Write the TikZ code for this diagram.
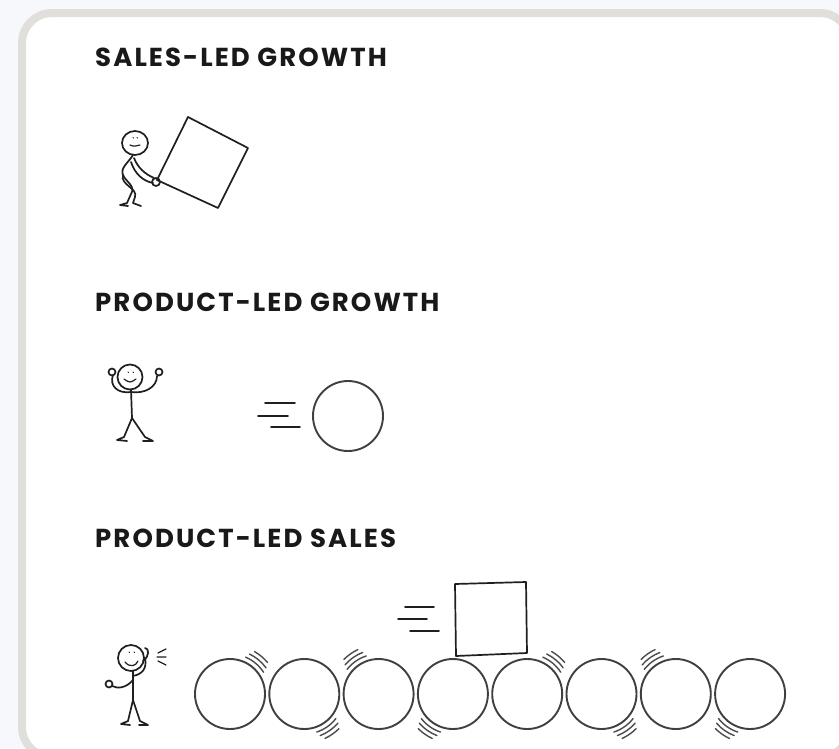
\documentclass[tikz,border=0pt]{standalone}
\usepackage{fontspec}
\newfontfamily\titlefont{Poppins}[LetterSpace=8]
\definecolor{bgblue}{HTML}{F6F8FC}
\definecolor{cardline}{HTML}{E0DFDB}
\begin{document}
\begin{tikzpicture}[x=1pt,y=-1pt,line cap=round,line join=round]
	\tikzset{ink/.style={line width=1.7pt,draw=black!88},
		ball/.style={circle,draw=black!75,line width=1.9pt,minimum size=70pt,inner sep=0pt},
		title/.style={anchor=base west,inner sep=0pt,text=black!90,
			font=\titlefont\bfseries\fontsize{26}{30}\selectfont},
		wobble/.style={draw=black!70,line width=1.4pt}}
	\useasboundingbox (0,0) rectangle (839,748);
	\fill[bgblue] (0,0) rectangle (839,748);
	\draw[cardline,line width=8pt,fill=white,rounded corners=30pt] (22,13) rectangle (850,757);
	% titles
	\node[title] (slg) at (95,66) {SALES-LED GROWTH};
	\node[title] (plg) at (95,311) {PRODUCT-LED GROWTH};
	\node[title] (pls) at (95,547) {PRODUCT-LED SALES};
	% man pushing the box
	\draw[ink] (188,117)--(248,148)--(218,208)--(157,180)--cycle;
	\draw[ink] (135,143) ellipse[x radius=13,y radius=12];
	\draw[ink,line width=1pt] (133,137.5)--(133.5,138) (137,137.5)--(137.5,138);
	\draw[ink,line width=1.2pt] (130,145) .. controls (134,146.5) .. (140,145);
	\draw[ink] (133,155) .. controls (128,163) and (120,168) .. (123,175)
		.. controls (126,182) and (136,186) .. (131,194) -- (127,203) -- (120,205) -- (128,206);
	\draw[ink] (123,175) .. controls (120,185) and (138,188) .. (135,197) -- (133,203) -- (141,206);
	\draw[ink] (134,158) .. controls (138,168) and (145,174) .. (154,178);
	\draw[ink] (131,162) .. controls (135,174) and (143,181) .. (153,183);
	\draw[ink] (156,182) circle[radius=4];
	% man cheering at the ball
	\draw[ink] (130,377) circle[radius=12.5];
	\draw[ink,line width=1pt] (128,372)--(128.5,372.5) (133,372)--(133.5,372.5);
	\draw[ink,line width=1.2pt] (124,379) .. controls (130,383) .. (136,379);
	\draw[ink] (131,389.5) -- (132,418) -- (124,437) -- (117,440) -- (127,441);
	\draw[ink] (132,418) -- (145,437) -- (153,441) -- (143,441);
	\draw[ink] (131,392) .. controls (118,394) and (109,386) .. (113,375);
	\draw[ink] (131,392) .. controls (145,394) and (157,387) .. (157,376);
	\draw[ink] (112,372) circle[radius=3.5] (159,372) circle[radius=3.5];
	\draw[ink] (265,403)--(295,403) (258,416)--(288,416) (271,427)--(300,427);
	\node[ball] (ball) at (348,416) {};
	% man calling out over the row of balls
	\draw[ink] (131,658) circle[radius=13];
	\draw[ink,line width=1pt] (129,652)--(129.5,652.5) (134,652)--(134.5,652.5);
	\draw[ink,line width=1.2pt] (125,662) .. controls (130,668) and (136,666) .. (138,661);
	\draw[ink] (133,671) -- (133,700) -- (128,721) -- (121,724) -- (130,725);
	\draw[ink] (133,700) -- (140,721) -- (148,725) -- (139,725);
	\draw[ink] (133,676) .. controls (143,674) and (147,668) .. (145,658);
	\draw[ink] (143,661) .. controls (150,656) and (149,648) .. (145,648);
	\draw[ink] (133,680) .. controls (126,688) and (118,689) .. (112,686);
	\draw[ink] (109,684) circle[radius=3.5];
	\draw[ink,line width=1.3pt] (158,653)--(166,649) (157,657)--(166,657) (158,661)--(166,665);
	\foreach \i in {0,...,7}
		\node[ball] (b\i) at (230+74.3*\i,694) {};
	\foreach \b/\a in {b0/-50,b1/55,b2/-125,b3/125,b4/-50,b5/55,b6/-125,b7/125}
		\foreach \r/\d in {40/17,44.5/14,49/10}
			\draw[wobble] ([shift={(\a-\d:\r)}]\b.center) arc[start angle=\a-\d,end angle=\a+\d,radius=\r];
	\draw[ink] (455,584) -- (526,582) -- (527,653) -- (456,656) -- cycle;
	\draw[ink] (405,607)--(434,607) (398,619)--(427,619) (410,631)--(439,631);
\end{tikzpicture}
\end{document}
